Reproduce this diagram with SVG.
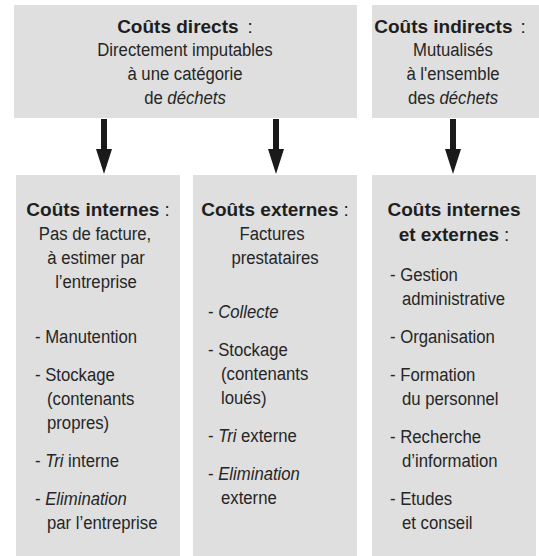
<svg xmlns="http://www.w3.org/2000/svg" width="539" height="556" viewBox="0 0 539 556">
  <style>
    .box { fill: #dfdfdf; }
    text { font-family: "Liberation Sans", Arial, sans-serif; fill: #262626; }
    .h { font-size: 19px; font-weight: bold; fill: #1e1e1e; text-anchor: middle; }
    .c { font-weight: normal; }
    .r { font-size: 19px; }
    .m { text-anchor: middle; }
    .i { font-style: italic; }
    .arrow { fill: #1a1a1a; }
  </style>
  <defs>
    <!-- down arrow drawn at origin, tip at y = 54 -->
    <path id="down" class="arrow" d="M -3 0 H 3 V 30 H 8 L 0 55 L -8 30 H -3 Z"/>
  </defs>

  <rect width="539" height="556" fill="#ffffff"/>

  <!-- connectors -->
  <g id="connectors">
    <use href="#down" x="104" y="119"/>
    <use href="#down" x="276" y="119"/>
    <use href="#down" x="453" y="119"/>
  </g>

  <!-- direct costs -->
  <g id="couts-directs">
    <rect class="box" x="14" y="5" width="343" height="113"/>
    <text class="h" x="185" y="33">Coûts directs<tspan class="c" dx="9">:</tspan></text>
    <text class="r m" transform="translate(185 56) scale(.88 1)">Directement imputables</text>
    <text class="r m" transform="translate(185 80) scale(.88 1)">à une catégorie</text>
    <text class="r m" transform="translate(185 104) scale(.88 1)">de <tspan class="i">déchets</tspan></text>
  </g>

  <!-- indirect costs -->
  <g id="couts-indirects">
    <rect class="box" x="372" y="5" width="167" height="113"/>
    <text class="h" x="450" y="33">Coûts indirects<tspan class="c" dx="8">:</tspan></text>
    <text class="r m" transform="translate(453 56) scale(.88 1)">Mutualisés</text>
    <text class="r m" transform="translate(453 80) scale(.88 1)">à l'ensemble</text>
    <text class="r m" transform="translate(453 104) scale(.88 1)">des <tspan class="i">déchets</tspan></text>
  </g>

  <!-- internal costs -->
  <g id="couts-internes">
    <rect class="box" x="16" y="175" width="164" height="381"/>
    <text class="h" x="98" y="216">Coûts internes<tspan class="c" dx="5">:</tspan></text>
    <text class="r m" transform="translate(95 240) scale(.88 1)">Pas de facture,</text>
    <text class="r m" transform="translate(96 264) scale(.88 1)">à estimer par</text>
    <text class="r m" transform="translate(96 288) scale(.88 1)">l’entreprise</text>
    <text class="r" transform="translate(35 343) scale(.88 1)">- Manutention</text>
    <text class="r" transform="translate(35 381) scale(.88 1)">- Stockage</text>
    <text class="r" transform="translate(47 405) scale(.88 1)">(contenants</text>
    <text class="r" transform="translate(47 429) scale(.88 1)">propres)</text>
    <text class="r" transform="translate(35 467) scale(.88 1)">- <tspan class="i">Tri</tspan> interne</text>
    <text class="r" transform="translate(35 505) scale(.88 1)">- <tspan class="i">Elimination</tspan></text>
    <text class="r" transform="translate(47 529) scale(.88 1)">par l’entreprise</text>
  </g>

  <!-- external costs -->
  <g id="couts-externes">
    <rect class="box" x="193" y="175" width="164" height="381"/>
    <text class="h" x="275" y="216">Coûts externes<tspan class="c" dx="5">:</tspan></text>
    <text class="r m" transform="translate(272 240) scale(.88 1)">Factures</text>
    <text class="r m" transform="translate(275 264) scale(.88 1)">prestataires</text>
    <text class="r" transform="translate(208 318) scale(.88 1)">- <tspan class="i">Collecte</tspan></text>
    <text class="r" transform="translate(208 356) scale(.88 1)">- Stockage</text>
    <text class="r" transform="translate(221 380) scale(.88 1)">(contenants</text>
    <text class="r" transform="translate(221 404) scale(.88 1)">loués)</text>
    <text class="r" transform="translate(208 442) scale(.88 1)">- <tspan class="i">Tri</tspan> externe</text>
    <text class="r" transform="translate(208 480) scale(.88 1)">- <tspan class="i">Elimination</tspan></text>
    <text class="r" transform="translate(221 504) scale(.88 1)">externe</text>
  </g>

  <!-- shared internal and external costs -->
  <g id="couts-internes-externes">
    <rect class="box" x="372" y="175" width="164" height="381"/>
    <text class="h" x="454" y="216">Coûts internes</text>
    <text class="h" x="454" y="241">et externes<tspan class="c" dx="5">:</tspan></text>
    <text class="r" transform="translate(390 281) scale(.88 1)">- Gestion</text>
    <text class="r" transform="translate(402 305) scale(.88 1)">administrative</text>
    <text class="r" transform="translate(390 343) scale(.88 1)">- Organisation</text>
    <text class="r" transform="translate(390 381) scale(.88 1)">- Formation</text>
    <text class="r" transform="translate(402 405) scale(.88 1)">du personnel</text>
    <text class="r" transform="translate(390 443) scale(.88 1)">- Recherche</text>
    <text class="r" transform="translate(402 467) scale(.88 1)">d’information</text>
    <text class="r" transform="translate(390 505) scale(.88 1)">- Etudes</text>
    <text class="r" transform="translate(402 529) scale(.88 1)">et conseil</text>
  </g>
</svg>
